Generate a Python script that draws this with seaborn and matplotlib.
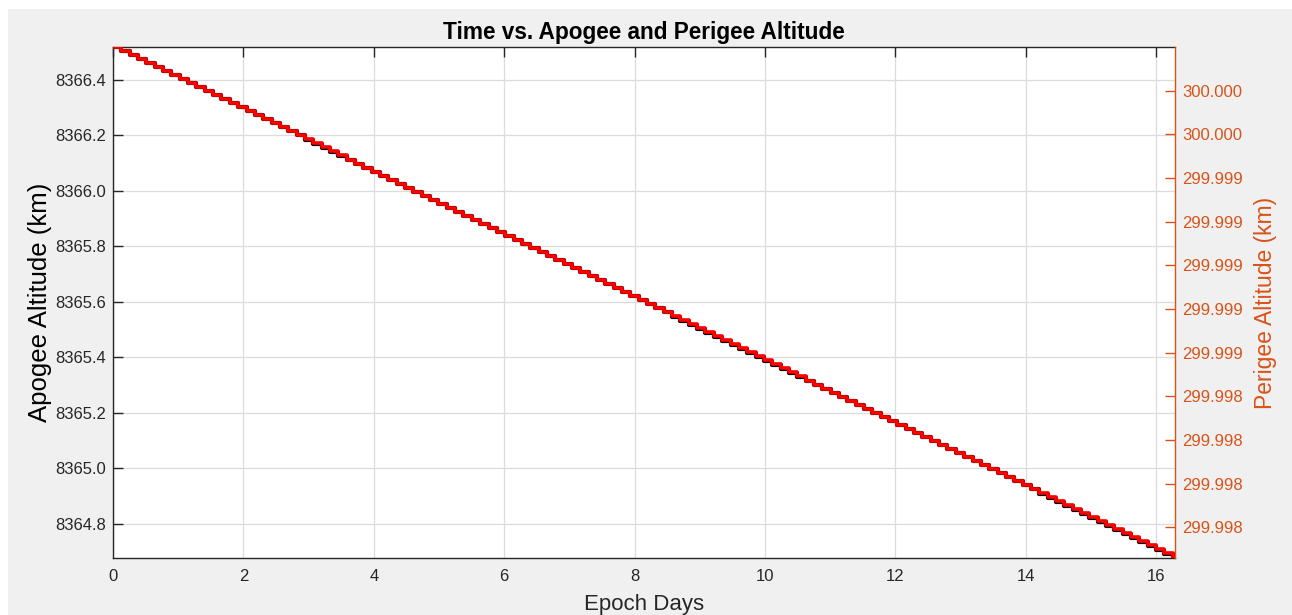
import numpy as np
import pandas as pd
import matplotlib
matplotlib.use('Agg')
import matplotlib.pyplot as plt
import seaborn as sns
from matplotlib.patches import Rectangle

# Epoch days at the start of each orbit, last value = end of run
epoch_days = [
    0.000, 0.128, 0.256, 0.384, 0.512, 0.640, 0.768, 0.896, 1.024, 1.152,
    1.280, 1.408, 1.536, 1.664, 1.792, 1.920, 2.048, 2.176, 2.304, 2.432,
    2.560, 2.688, 2.816, 2.944, 3.072, 3.200, 3.328, 3.456, 3.584, 3.712,
    3.840, 3.968, 4.096, 4.224, 4.352, 4.480, 4.608, 4.736, 4.864, 4.992,
    5.120, 5.248, 5.376, 5.504, 5.632, 5.760, 5.888, 6.016, 6.144, 6.272,
    6.400, 6.528, 6.656, 6.784, 6.912, 7.040, 7.168, 7.296, 7.424, 7.552,
    7.680, 7.808, 7.936, 8.064, 8.192, 8.320, 8.448, 8.576, 8.704, 8.832,
    8.960, 9.088, 9.216, 9.344, 9.472, 9.600, 9.728, 9.856, 9.984, 10.112,
    10.240, 10.368, 10.496, 10.624, 10.752, 10.880, 11.008, 11.136, 11.264, 11.392,
    11.520, 11.648, 11.776, 11.904, 12.032, 12.160, 12.288, 12.416, 12.544, 12.672,
    12.800, 12.928, 13.056, 13.184, 13.312, 13.440, 13.568, 13.696, 13.824, 13.952,
    14.080, 14.208, 14.336, 14.464, 14.592, 14.720, 14.848, 14.976, 15.104, 15.232,
    15.360, 15.488, 15.616, 15.744, 15.872, 16.000, 16.128, 16.256, 16.290,
]

# Apogee altitude (km) per orbit
apogee_km = [
    8366.5190, 8366.5045, 8366.4900, 8366.4755, 8366.4610, 8366.4465, 8366.4320, 8366.4175, 8366.4030, 8366.3885,
    8366.3740, 8366.3595, 8366.3450, 8366.3305, 8366.3160, 8366.3015, 8366.2870, 8366.2725, 8366.2580, 8366.2435,
    8366.2290, 8366.2145, 8366.2000, 8366.1855, 8366.1710, 8366.1565, 8366.1420, 8366.1275, 8366.1130, 8366.0985,
    8366.0840, 8366.0695, 8366.0550, 8366.0405, 8366.0260, 8366.0115, 8365.9970, 8365.9825, 8365.9680, 8365.9535,
    8365.9390, 8365.9245, 8365.9100, 8365.8955, 8365.8810, 8365.8665, 8365.8520, 8365.8375, 8365.8230, 8365.8085,
    8365.7940, 8365.7795, 8365.7650, 8365.7505, 8365.7360, 8365.7215, 8365.7070, 8365.6925, 8365.6780, 8365.6635,
    8365.6490, 8365.6345, 8365.6200, 8365.6055, 8365.5910, 8365.5765, 8365.5620, 8365.5475, 8365.5330, 8365.5185,
    8365.5040, 8365.4895, 8365.4750, 8365.4605, 8365.4460, 8365.4315, 8365.4170, 8365.4025, 8365.3880, 8365.3735,
    8365.3590, 8365.3445, 8365.3300, 8365.3155, 8365.3010, 8365.2865, 8365.2720, 8365.2575, 8365.2430, 8365.2285,
    8365.2140, 8365.1995, 8365.1850, 8365.1705, 8365.1560, 8365.1415, 8365.1270, 8365.1125, 8365.0980, 8365.0835,
    8365.0690, 8365.0545, 8365.0400, 8365.0255, 8365.0110, 8364.9965, 8364.9820, 8364.9675, 8364.9530, 8364.9385,
    8364.9240, 8364.9095, 8364.8950, 8364.8805, 8364.8660, 8364.8515, 8364.8370, 8364.8225, 8364.8080, 8364.7935,
    8364.7790, 8364.7645, 8364.7500, 8364.7355, 8364.7210, 8364.7065, 8364.6920, 8364.6775, 8364.6775,
]

# Perigee altitude (km) per orbit
perigee_km = [
    300.0000000, 299.9999816, 299.9999632, 299.9999448, 299.9999264, 299.9999080, 299.9998896, 299.9998712,
    299.9998528, 299.9998344, 299.9998160, 299.9997976, 299.9997792, 299.9997608, 299.9997424, 299.9997240,
    299.9997056, 299.9996872, 299.9996688, 299.9996504, 299.9996320, 299.9996136, 299.9995952, 299.9995768,
    299.9995584, 299.9995400, 299.9995216, 299.9995032, 299.9994848, 299.9994664, 299.9994480, 299.9994296,
    299.9994112, 299.9993928, 299.9993744, 299.9993560, 299.9993376, 299.9993192, 299.9993008, 299.9992824,
    299.9992640, 299.9992456, 299.9992272, 299.9992088, 299.9991904, 299.9991720, 299.9991536, 299.9991352,
    299.9991168, 299.9990984, 299.9990800, 299.9990616, 299.9990432, 299.9990248, 299.9990064, 299.9989880,
    299.9989696, 299.9989512, 299.9989328, 299.9989144, 299.9988960, 299.9988776, 299.9988592, 299.9988408,
    299.9988224, 299.9988040, 299.9987856, 299.9987672, 299.9987488, 299.9987304, 299.9987120, 299.9986936,
    299.9986752, 299.9986568, 299.9986384, 299.9986200, 299.9986016, 299.9985832, 299.9985648, 299.9985464,
    299.9985280, 299.9985096, 299.9984912, 299.9984728, 299.9984544, 299.9984360, 299.9984176, 299.9983992,
    299.9983808, 299.9983624, 299.9983440, 299.9983256, 299.9983072, 299.9982888, 299.9982704, 299.9982520,
    299.9982336, 299.9982152, 299.9981968, 299.9981784, 299.9981600, 299.9981416, 299.9981232, 299.9981048,
    299.9980864, 299.9980680, 299.9980496, 299.9980312, 299.9980128, 299.9979944, 299.9979760, 299.9979576,
    299.9979392, 299.9979208, 299.9979024, 299.9978840, 299.9978656, 299.9978472, 299.9978288, 299.9978104,
    299.9977920, 299.9977736, 299.9977552, 299.9977368, 299.9977184, 299.9977000, 299.9976816, 299.9976632,
    299.9976632,
]

x_ticks = [0, 2, 4, 6, 8, 10, 12, 14, 16]
apogee_ticks = [8364.8, 8365.0, 8365.2, 8365.4, 8365.6, 8365.8, 8366.0, 8366.2, 8366.4]
perigee_ticks = [299.9978, 299.9980, 299.9982, 299.9984, 299.9986, 299.9988,
                 299.9990, 299.9992, 299.9994, 299.9996, 299.9998]
perigee_tick_labels = ['299.998', '299.998', '299.998', '299.998', '299.999', '299.999',
                       '299.999', '299.999', '299.999', '300.000', '300.000']

df = pd.DataFrame({'Epoch Days': epoch_days, 'Apogee': apogee_km, 'Perigee': perigee_km})

sns.set_theme(style='white')
plt.rcParams['font.family'] = ['Liberation Sans', 'DejaVu Sans']

orange = '#D95319'
dark = '#262626'

fig = plt.figure(figsize=(12.92, 6.15), dpi=100, facecolor='#f0f0f0')
# thin white border at top / left like the screenshot
fig.patches.append(Rectangle((0, 1 - 9 / 615), 1, 9 / 615, transform=fig.transFigure,
                             facecolor='white', edgecolor='none', zorder=-1))
fig.patches.append(Rectangle((0, 0), 8 / 1292, 1, transform=fig.transFigure,
                             facecolor='white', edgecolor='none', zorder=-1))

ax = fig.add_axes([113 / 1292, 1 - 558 / 615, (1175 - 113) / 1292, (558 - 47) / 615])
ax.set_facecolor('white')
ax2 = ax.twinx()

sns.lineplot(data=df, x='Epoch Days', y='Apogee', ax=ax, color='black', lw=3.0,
             drawstyle='steps-post', solid_joinstyle='round', zorder=3)
sns.lineplot(data=df, x='Epoch Days', y='Perigee', ax=ax2, color='#ff0000', lw=2.6,
             drawstyle='steps-post', solid_joinstyle='round', zorder=4)

ax.set_xlim(0, 16.29)
ax.set_ylim(8364.677, 8366.519)
ax2.set_ylim(299.99766, 300.0)

ax.set_xticks(x_ticks)
ax.set_yticks(apogee_ticks)
ax.set_yticklabels([f'{v:.1f}' for v in apogee_ticks])
ax2.set_yticks(perigee_ticks)
ax2.set_yticklabels(perigee_tick_labels)

ax.grid(True, color='#dcdcdc', lw=0.9)
ax.tick_params(axis='both', direction='in', length=7, width=1, colors=dark,
               labelsize=12, pad=5, top=True)
ax.tick_params(axis='x', pad=8)
ax2.tick_params(axis='y', direction='in', length=7, width=1, colors=orange,
                labelsize=12, pad=5)

for name in ['left', 'top', 'bottom']:
    ax.spines[name].set_color(dark)
    ax.spines[name].set_linewidth(1)
ax.spines['right'].set_visible(False)
for name in ['left', 'top', 'bottom']:
    ax2.spines[name].set_visible(False)
ax2.spines['right'].set_color(orange)
ax2.spines['right'].set_linewidth(1)

ax.set_xlabel('Epoch Days', fontsize=16, color=dark, labelpad=7)
ax.set_ylabel('Apogee Altitude (km)', fontsize=18.5, color='black', labelpad=2)
ax2.set_ylabel('Perigee Altitude (km)', fontsize=16.5, color=orange, labelpad=8)
ax.set_title('Time vs. Apogee and Perigee Altitude', fontsize=16.3, fontweight='bold',
             color='black', pad=6)

fig.savefig('out.png', dpi=100, facecolor=fig.get_facecolor())
